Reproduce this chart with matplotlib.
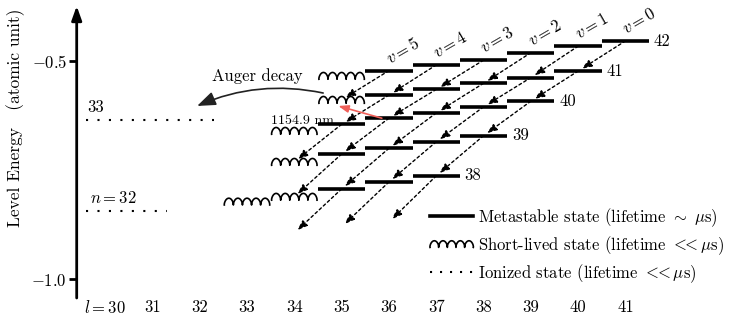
import numpy as np
import matplotlib.pyplot as plt
from matplotlib.lines import Line2D
from matplotlib.legend_handler import HandlerBase

plt.rcParams['font.family'] = ['cmr10', 'DejaVu Serif']
plt.rcParams['mathtext.fontset'] = 'cm'
plt.rcParams['axes.formatter.use_mathtext'] = True

# metastable states: principal n, angular momentum l, energy (a.u.)
meta_n = [42] * 6 + [41] * 5 + [40] * 5 + [39] * 4 + [38] * 3
meta_l = [41, 40, 39, 38, 37, 36,
          40, 39, 38, 37, 36,
          39, 38, 37, 36, 35,
          38, 37, 36, 35,
          37, 36, 35]
meta_E = [-0.454, -0.466, -0.481, -0.498, -0.509, -0.522,
          -0.523, -0.538, -0.551, -0.565, -0.578,
          -0.592, -0.605, -0.619, -0.631, -0.645,
          -0.671, -0.685, -0.700, -0.713,
          -0.763, -0.777, -0.793]

# short-lived states
short_n = [42, 41, 40, 39, 38, 38]
short_l = [35, 35, 34, 34, 34, 33]
short_E = [-0.534, -0.589, -0.660, -0.731, -0.811, -0.822]

# n = 37 states reached by the last cascade step (not drawn)
low_n = [37, 37, 37]
low_l = [36, 35, 34]
low_E = [-0.869, -0.880, -0.894]

# ionized states
ion_n = [33, 32]
ion_E = [-0.634, -0.843]
ion_lend = [32.3, 31.3]

l_ticks = list(range(30, 42))
v_values = [0, 1, 2, 3, 4, 5]

# px -> data conversion used for the coil glyph
PX_L = 1 / 47.3
PX_E = 1 / 436.6


def coil(x0, x1, y0, rx, ry, loops=5, npts=240):
    u = np.linspace(0, 2 * np.pi * loops, npts)
    a = (x1 - x0) / (2 * np.pi * loops)
    return x0 + a * u - rx * np.sin(u), y0 - ry * np.cos(u)


class CoilHandler(HandlerBase):
    def create_artists(self, legend, orig_handle, xdescent, ydescent,
                       width, height, fontsize, trans):
        x, y = coil(-xdescent, -xdescent + width, -ydescent + height / 2,
                    1.15, 2.4)
        line = Line2D(x, y, color='k', lw=1.2, transform=trans)
        return [line]


fig = plt.figure(figsize=(7.36, 3.26), dpi=100)
ax = fig.add_axes([76.7 / 736, 28 / 326, 653.3 / 736, 292 / 326])
ax.set_xlim(29.40, 43.21)
ax.set_ylim(-1.0428, -0.374)
for s in ax.spines.values():
    s.set_visible(False)

# y axis with arrow
ax.annotate('', xy=(0, 1), xytext=(0, 0), xycoords='axes fraction',
            arrowprops=dict(arrowstyle='-|>,head_length=0.7,head_width=0.25',
                            lw=2, color='k', shrinkA=0, shrinkB=0,
                            mutation_scale=12))
ax.set_yticks([-0.5, -1.0])
ax.set_yticklabels(['$-0.5$', '$-1.0$'], fontsize=12)
ax.tick_params(axis='y', length=6, width=2, pad=1)
ax.set_xticks(l_ticks)
ax.set_xticklabels(['$l = 30$'] + [str(l) for l in l_ticks[1:]], fontsize=12)
ax.tick_params(axis='x', length=0, pad=1)
ax.set_ylabel('Level Energy   (atomic unit)', fontsize=12.5)
ax.yaxis.set_label_coords(-0.0791, 0.618)

# ionized levels
for n, E, le in zip(ion_n, ion_E, ion_lend):
    ax.plot([29.6, le], [E, E], color='k', lw=1.5, ls=(0, (1, 4.5)))
ax.text(29.62, ion_E[0] + 0.011, '33', fontsize=12, va='bottom')
ax.text(29.68, ion_E[1] + 0.011, '$n = 32$', fontsize=12, va='bottom')

# metastable bars
ml = np.array(meta_l)
ax.hlines(meta_E, ml - 0.5, ml + 0.5, color='k', lw=2.6)

# short-lived coils
for l, E in zip(short_l, short_E):
    x, y = coil(l - 0.48, l + 0.48, E, 1.6 * PX_L, 3.4 * PX_E)
    ax.plot(x, y, color='k', lw=1.2)

# cascade arrows (n, l) -> (n-1, l-1)
levels = {}
for n, l, E in zip(meta_n + short_n + low_n, meta_l + short_l + low_l,
                   meta_E + short_E + low_E):
    levels[(n, l)] = E
for n, l, E in zip(meta_n, meta_l, meta_E):
    if (n - 1, l - 1) in levels:
        ax.annotate('', xy=(l - 1, levels[(n - 1, l - 1)]), xytext=(l, E),
                    arrowprops=dict(arrowstyle='-|>,head_length=0.6,head_width=0.22',
                                    ls=(0, (2, 2)), lw=1, color='k',
                                    shrinkA=0, shrinkB=3, mutation_scale=10))

# labels of n on v = 0 and v on the top row
for n, l, E in zip(meta_n, meta_l, meta_E):
    if n - l - 1 == 0:
        ax.text(l + 0.6, E, str(n), fontsize=12, va='center', ha='left')
for v in v_values:
    E = levels[(42, 41 - v)]
    ax.text(41 - v + 0.3, E + 0.046, f'$v = {v}$', fontsize=12,
            rotation=30, ha='center', va='center')

# Auger decay
ax.annotate('', xy=(31.945, -0.603), xytext=(34.61, -0.5733),
            arrowprops=dict(arrowstyle='-|>,head_length=0.8,head_width=0.3',
                            connectionstyle='arc3,rad=0.16', lw=1.2,
                            color='#222222', shrinkA=0, shrinkB=0,
                            mutation_scale=14))
ax.text(33.22, -0.5355, 'Auger decay', fontsize=12, ha='center', va='center')

# laser transition
ax.annotate('', xy=(34.93, -0.603), xytext=(35.85, levels[(40, 36)]),
            arrowprops=dict(arrowstyle='-|>,head_length=0.6,head_width=0.22',
                            lw=1.2, color='#f0605a', shrinkA=0, shrinkB=0,
                            mutation_scale=10))
ax.text(34.18, -0.6374, '1154.9 nm', fontsize=10, ha='center', va='center')

# legend
h_meta = Line2D([], [], color='k', lw=2.6)
h_short = Line2D([], [], color='k', lw=1.2)
h_ion = Line2D([], [], color='k', lw=1.5, ls=(0, (1, 3.8)))
ax.legend([h_meta, h_short, h_ion],
          [r'Metastable state (lifetime $\sim\ \mu$s)',
           r'Short-lived state (lifetime $<\!\!\!<\mu$s)',
           r'Ionized state (lifetime $<\!\!\!<\mu$s)'],
          handler_map={h_short: CoilHandler()},
          loc='upper left', bbox_to_anchor=(0.5408, 0.315), frameon=False,
          fontsize=12, handlelength=2.6, handletextpad=0.3,
          labelspacing=0.32, borderpad=0, borderaxespad=0)

fig.savefig('out.png', dpi=100)
